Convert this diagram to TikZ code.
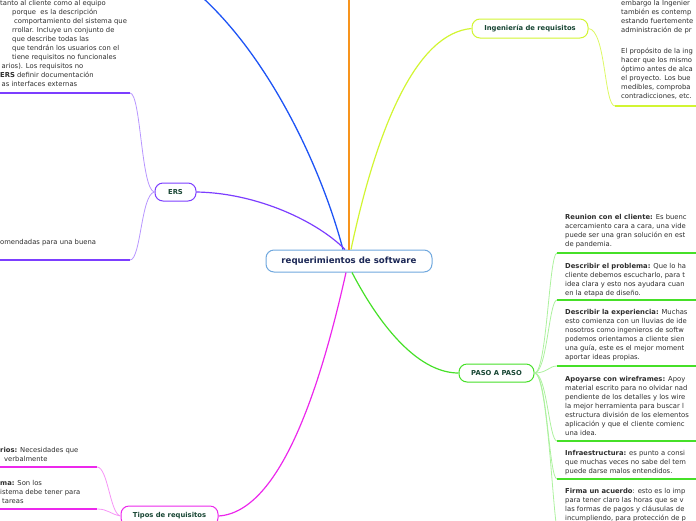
\documentclass[tikz,border=0pt]{standalone}
\usepackage{fontspec}
\setmainfont{DejaVu Sans}
\usetikzlibrary{positioning}
\definecolor{mapBlue}{RGB}{30,84,245}
\definecolor{mapOrange}{RGB}{247,148,29}
\definecolor{mapPurple}{RGB}{124,62,255}
\definecolor{mapLime}{RGB}{210,245,50}
\definecolor{mapGreen}{RGB}{70,224,40}
\definecolor{mapMagenta}{RGB}{236,40,236}
\definecolor{mapRoot}{RGB}{112,168,222}
\definecolor{mapNavy}{RGB}{28,40,86}
\definecolor{mapTeal}{RGB}{24,70,52}
\definecolor{mapText}{RGB}{45,45,45}

\begin{document}
\begin{tikzpicture}[x=1pt,y=-1pt,
    topic/.style={draw, rounded corners=8pt, line width=1pt, fill=white, inner sep=0pt,
        font=\fontsize{6.8}{8}\selectfont\bfseries, text=mapTeal, minimum height=18pt},
    note/.style={anchor=north west, align=left, inner sep=0pt,
        font=\fontsize{6.8}{9}\selectfont, text=mapText},
    twig/.style={line width=0.8pt},
    rule/.style={line width=1.8pt}]
    \useasboundingbox (0,0) rectangle (696,520);
    \clip (0,0) rectangle (696,520);

    % central topic and main topics
    \node[topic, draw=mapRoot, text=mapNavy, font=\fontsize{8.6}{10}\selectfont\bfseries,
        minimum width=166pt, minimum height=22pt] (root) at (349,261) {requerimientos de software};
    \node[topic, draw=mapPurple, minimum width=41pt] (ers) at (175.5,192) {ERS};
    \node[topic, draw=mapLime, minimum width=116pt, minimum height=19pt] (inge) at (530,28.5) {Ingeniería de requisitos};
    \node[topic, draw=mapGreen, minimum width=75pt] (paso) at (496.5,373) {PASO A PASO};
    \node[topic, draw=mapMagenta, minimum width=97pt, minimum height=20pt] (tipos) at (169.5,516) {Tipos de requisitos};

    % branches that leave the picture
    \coordinate (orangeEnd) at (349,-2);
    \coordinate (blueEnd) at (203,-2);
    \draw[mapOrange, line width=1.3pt] (root.north) -- (orangeEnd);
    \draw[mapBlue, line width=1.3pt] ([xshift=-6pt]root.north) .. controls (322,170) and (272,62) .. (blueEnd);

    % main connectors
    \draw[mapPurple, line width=1.2pt] ([xshift=-4pt]root.north) .. controls (318,222) and (258,193) .. (ers.east);
    \draw[mapLime, line width=1.2pt] ([xshift=2pt]root.north) .. controls (378,122) and (418,33) .. (inge.west);
    \draw[mapGreen, line width=1.2pt] ([xshift=3pt]root.south) .. controls (382,330) and (420,373) .. (paso.west);
    \draw[mapMagenta, line width=1.2pt] ([xshift=-3pt]root.south) .. controls (322,380) and (282,512) .. (tipos.east);

    % ERS notes
    \coordinate (ersTopW) at (-2,93);
    \coordinate (ersTopE) at (130,93);
    \coordinate (ersLowW) at (-2,260);
    \coordinate (ersLowE) at (130,260);
    \draw[mapPurple!55, twig] (ers.west) .. controls (141,190) and (141,93) .. (ersTopE);
    \draw[mapPurple!55, twig] (ers.west) .. controls (141,194) and (141,260) .. (ersLowE);
    \draw[mapPurple, rule] (ersTopW) -- (ersTopE);
    \draw[mapPurple, rule] (ersLowW) -- (ersLowE);
    \node[note] (ersText) at (0,0.5) {tanto al cliente como al equipo\\
        \hspace*{12pt}porque\ \ es la descripción\\
        \hspace*{14pt}comportamiento del sistema que\\
        \hspace*{12pt}rrollar. Incluye un conjunto de\\
        \hspace*{12pt}que describe todas las\\
        \hspace*{12pt}que tendrán los usuarios con el\\
        \hspace*{12pt}tiene requisitos no funcionales\\
        \hspace*{1.5pt}arios). Los requisitos no\\
        \textbf{ERS} definir documentación\\
        \hspace*{1.5pt}as interfaces externas};
    \node[note] (ersText2) at (0,239.5) {omendadas para una buena};

    % Ingenieria de requisitos notes
    \coordinate (ingeW) at (615,106);
    \coordinate (ingeE) at (698,106);
    \draw[mapLime!75, twig] (inge.east) .. controls (606,30) and (604,106) .. (ingeW);
    \draw[mapLime, rule] (ingeW) -- (ingeE);
    \node[note] (ingeText) at (621,0.5) {embargo la Ingenier\\
        también es contemp\\
        estando fuertemente\\
        administración de pr\\[12pt]
        El propósito de la ing\\
        hacer que los mismo\\
        óptimo antes de alca\\
        el proyecto. Los bue\\
        medibles, comproba\\
        contradicciones, etc.};

    % PASO A PASO notes
    \coordinate (stepA) at (557,253);
    \coordinate (stepB) at (557,300);
    \coordinate (stepC) at (557,366);
    \coordinate (stepD) at (557,441);
    \coordinate (stepE) at (557,479);
    \coordinate (stepF) at (557,530);
    \draw[mapGreen!45, twig] (paso.east) .. controls (547,373) and (549,253) .. (stepA);
    \draw[mapGreen!45, twig] (paso.east) .. controls (547,373) and (549,300) .. (stepB);
    \draw[mapGreen!45, twig] (paso.east) .. controls (547,373) and (549,366) .. (stepC);
    \draw[mapGreen!45, twig] (paso.east) .. controls (547,373) and (549,441) .. (stepD);
    \draw[mapGreen!45, twig] (paso.east) .. controls (547,373) and (549,479) .. (stepE);
    \draw[mapGreen!45, twig] (paso.east) .. controls (547,373) and (552,500) .. (stepF);
    \draw[mapGreen, rule] (stepA) -- (698,253);
    \draw[mapGreen, rule] (stepB) -- (698,300);
    \draw[mapGreen, rule] (stepC) -- (698,366);
    \draw[mapGreen, rule] (stepD) -- (698,441);
    \draw[mapGreen, rule] (stepE) -- (698,479);
    \node[note] (stepTextA) at (565,214.5) {\textbf{Reunion con el cliente:} Es buenc\\
        acercamiento cara a cara, una vide\\
        puede ser una gran solución en est\\
        de pandemia.};
    \node[note] (stepTextB) at (565,263.5) {\textbf{Describir el problema:} Que lo ha\\
        cliente debemos escucharlo, para t\\
        idea clara y esto nos ayudara cuan\\
        en la etapa de diseño.};
    \node[note] (stepTextC) at (565,309.5) {\textbf{Describir la experiencia:} Muchas\\
        esto comienza con un lluvias de ide\\
        nosotros como ingenieros de softw\\
        podemos orientamos a cliente sien\\
        una guía, este es el mejor moment\\
        aportar ideas propias.};
    \node[note] (stepTextD) at (565,376.5) {\textbf{Apoyarse con wireframes:} Apoy\\
        material escrito para no olvidar nad\\
        pendiente de los detalles y los wire\\
        la mejor herramienta para buscar l\\
        estructura división de los elementos\\
        aplicación y que el cliente comienc\\
        una idea.};
    \node[note] (stepTextE) at (565,450.5) {\textbf{Infraestructura:} es punto a consi\\
        que muchas veces no sabe del tem\\
        puede darse malos entendidos.};
    \node[note] (stepTextF) at (565,488.5) {\textbf{Firma un acuerdo}: esto es lo imp\\
        para tener claro las horas que se v\\
        las formas de pagos y cláusulas de\\
        incumpliendo, para protección de p};

    % Tipos de requisitos notes
    \coordinate (tipoA) at (97,467);
    \coordinate (tipoB) at (97,509);
    \draw[mapMagenta!50, twig] (tipos.west) .. controls (110,514) and (108,467) .. (tipoA);
    \draw[mapMagenta!50, twig] (tipos.west) .. controls (110,514) and (108,509) .. (tipoB);
    \draw[mapMagenta, rule] (-2,467) -- (tipoA);
    \draw[mapMagenta, rule] (-2,509) -- (tipoB);
    \node[note] (tipoTextA) at (0,447.5) {\textbf{rios:} Necesidades que\\
        \hspace*{4pt}verbalmente};
    \node[note] (tipoTextB) at (0,480.5) {\textbf{ma:} Son los\\
        istema debe tener para\\
        \hspace*{2pt}tareas};
\end{tikzpicture}
\end{document}
